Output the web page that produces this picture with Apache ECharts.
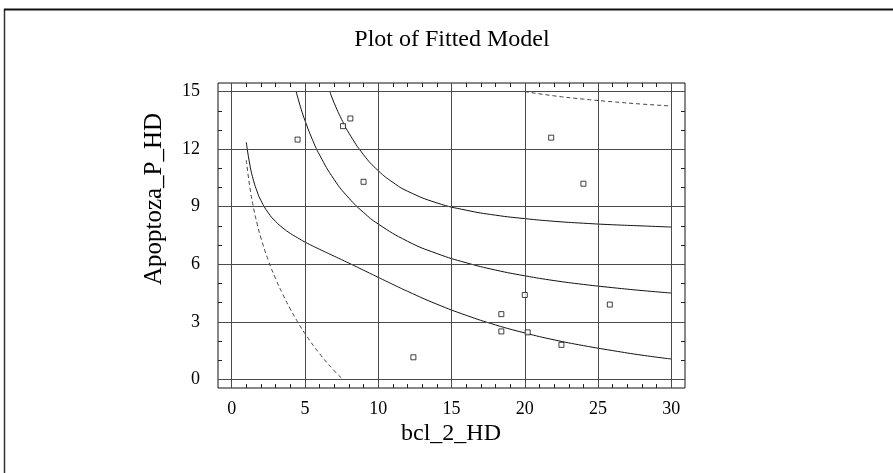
<!DOCTYPE html>
<html>
<head>
<meta charset="utf-8">
<style>
  html, body { margin: 0; padding: 0; background: #fff; }
  #chart { width: 893px; height: 473px; }
</style>
<script src="https://cdn.jsdelivr.net/npm/echarts@6/dist/echarts.min.js"></script>
</head>
<body>
<div id="chart"></div>
<script>
// Axis ticks: labelled values, and the small unit ticks
const xTicks = [0, 5, 10, 15, 20, 25, 30];
const yTicks = [0, 3, 6, 9, 12, 15];
const xMinorTicks = [0, 1, 2, 3, 4, 5, 6, 7, 8, 9, 10, 11, 12, 13, 14, 15, 16, 17, 18, 19, 20, 21, 22, 23, 24, 25, 26, 27, 28, 29, 30];
const yMinorTicks = [0, 1, 2, 3, 4, 5, 6, 7, 8, 9, 10, 11, 12, 13, 14, 15];

// Observed values
const obsX = [4.5, 7.6, 8.1, 9.0, 12.4, 18.4, 18.4, 20.0, 20.2, 21.8, 22.5, 24.0, 25.8];
const obsY = [12.5, 13.2, 13.6, 10.3, 1.15, 3.4, 2.5, 4.4, 2.45, 12.6, 1.8, 10.2, 3.9];

// Fitted curve
const fitX = [4.4, 4.75, 5, 5.5, 6, 7, 8, 9, 10, 12, 14, 16, 18, 20, 22, 24, 26, 28, 30];
const fitY = [15.0, 14.07, 13.5, 12.52, 11.7, 10.41, 9.45, 8.7, 8.1, 7.2, 6.56, 6.08, 5.7, 5.4, 5.15, 4.95, 4.78, 4.63, 4.5];

// Confidence limits
const upperConfX = [6.7, 7, 7.5, 8, 9, 10, 11, 12, 14, 16, 18, 20, 22, 24, 26, 28, 30];
const upperConfY = [15.0, 14.40, 13.56, 12.84, 11.71, 10.88, 10.27, 9.81, 9.20, 8.82, 8.56, 8.38, 8.24, 8.14, 8.06, 8.00, 7.94];
const lowerConfX = [1, 1.25, 1.5, 1.75, 2, 2.5, 3, 3.5, 4, 4.5, 5, 6, 7, 8, 9, 10, 11, 12, 14, 16, 18, 20, 22, 24, 26, 28, 30];
const lowerConfY = [12.36, 11.16, 10.35, 9.77, 9.32, 8.68, 8.23, 7.89, 7.61, 7.38, 7.16, 6.78, 6.42, 6.06, 5.69, 5.32, 4.95, 4.59, 3.92, 3.34, 2.84, 2.42, 2.06, 1.76, 1.50, 1.26, 1.06];

// Prediction limits
const upperPredX = [20, 22, 24, 26, 28, 30];
const upperPredY = [15.0, 14.78, 14.61, 14.47, 14.35, 14.25];
const lowerPredX = [1, 1.25, 1.5, 1.75, 2, 2.5, 3, 3.5, 4, 4.5, 5, 6, 7, 7.6];
const lowerPredY = [11.43, 9.98, 8.92, 8.08, 7.37, 6.21, 5.25, 4.42, 3.67, 3.00, 2.39, 1.34, 0.45, 0.0];

const zip = (xs, ys) => xs.map((x, i) => [x, ys[i]]);

const SERIF = '"Liberation Serif", "Times New Roman", serif';
const GRID_COLOR = '#4a4a4a';
const TICK_COLOR = '#222';

// The frame leaves a margin around the tick range on every side.
const X_MIN = -0.93, X_MAX = 30.93;
const Y_MIN = -0.45, Y_MAX = 15.45;

function xAxisDef(position, withLabels) {
  return {
    type: 'value', position: position, min: X_MIN, max: X_MAX,
    axisLine: { show: false, onZero: false },
    axisTick: { show: true, inside: true, length: 4, customValues: xMinorTicks, lineStyle: { color: TICK_COLOR, width: 1 } },
    splitLine: { show: false },
    axisLabel: { show: withLabels, customValues: xTicks, margin: 12, fontSize: 18, fontFamily: SERIF, color: '#000' }
  };
}
function yAxisDef(position, withLabels) {
  return {
    type: 'value', position: position, min: Y_MIN, max: Y_MAX,
    axisLine: { show: false, onZero: false },
    axisTick: { show: true, inside: true, length: 4, customValues: yMinorTicks, lineStyle: { color: TICK_COLOR, width: 1 } },
    splitLine: { show: false },
    axisLabel: { show: withLabels, customValues: yTicks, margin: 18, fontSize: 18, fontFamily: SERIF, color: '#000' }
  };
}

function curve(name, xs, ys, dashed) {
  return {
    name: name, type: 'line', xAxisIndex: 0, yAxisIndex: 0,
    data: zip(xs, ys), showSymbol: false, symbol: 'none',
    smooth: 0.5, silent: true,
    lineStyle: dashed
      ? { color: '#444', width: 1, type: [4, 3] }
      : { color: '#111', width: 1 },
    z: 3
  };
}

const chart = echarts.init(document.getElementById('chart'), null, { renderer: 'canvas' });
chart.setOption({
  backgroundColor: '#fff',
  animation: false,
  grid: {
    left: 218, top: 83, width: 467, height: 305, containLabel: false,
    show: true, borderColor: '#111', borderWidth: 1, backgroundColor: 'transparent'
  },
  xAxis: [xAxisDef('bottom', true), xAxisDef('top', false)],
  yAxis: [yAxisDef('left', true), yAxisDef('right', false)],
  graphic: [
    { type: 'line', shape: { x1: 4.5, y1: 9, x2: 4.5, y2: 473 }, style: { stroke: '#333', lineWidth: 1.5 } },
    { type: 'line', shape: { x1: 4, y1: 9.5, x2: 893, y2: 9.5 }, style: { stroke: '#111', lineWidth: 2 } },
    { type: 'text', x: 452, y: 40, style: { text: 'Plot of Fitted Model', font: '24px ' + SERIF, fill: '#000', textAlign: 'center', textVerticalAlign: 'middle' } },
    { type: 'text', x: 451, y: 434, style: { text: 'bcl_2_HD', font: '24px ' + SERIF, fill: '#000', textAlign: 'center', textVerticalAlign: 'middle' } },
    { type: 'text', x: 154, y: 199, rotation: Math.PI / 2, style: { text: 'Apoptoza_P_HD', font: '25px ' + SERIF, fill: '#000', textAlign: 'center', textVerticalAlign: 'middle' } }
  ],
  series: [
    {
      // grid lines at the labelled tick values, running frame to frame
      name: 'grid', type: 'line', data: [], silent: true, z: 1,
      markLine: {
        silent: true, symbol: 'none', animation: false,
        label: { show: false },
        lineStyle: { color: GRID_COLOR, width: 1, type: 'solid' },
        data: xTicks.map(v => ({ xAxis: v })).concat(yTicks.map(v => ({ yAxis: v })))
      }
    },
    curve('Lower prediction limit', lowerPredX, lowerPredY, true),
    curve('Upper prediction limit', upperPredX, upperPredY, true),
    curve('Lower confidence limit', lowerConfX, lowerConfY, false),
    curve('Upper confidence limit', upperConfX, upperConfY, false),
    curve('Fitted', fitX, fitY, false),
    {
      name: 'Observed', type: 'scatter', xAxisIndex: 0, yAxisIndex: 0,
      data: zip(obsX, obsY), symbol: 'rect', symbolSize: 5,
      itemStyle: { color: '#fff', borderColor: '#111', borderWidth: 1 },
      z: 5
    }
  ]
});
</script>
</body>
</html>
